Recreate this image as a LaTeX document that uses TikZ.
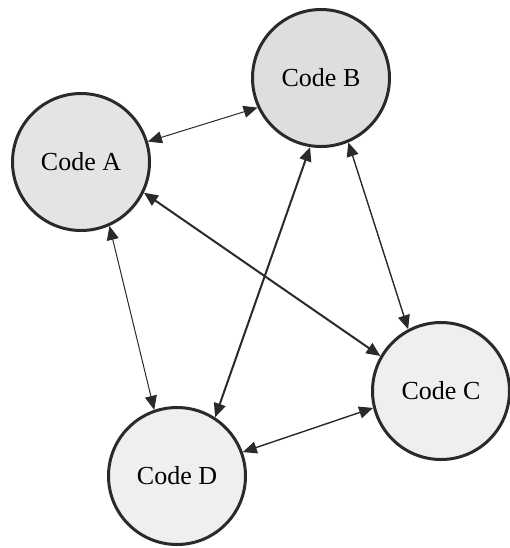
\documentclass[tikz,border=0pt]{standalone}
\usepackage{fontspec}
\setmainfont{Liberation Serif}
\usepackage{tikz}
\usetikzlibrary{shapes,arrows.meta}
\definecolor{fillA}{HTML}{E4E4E4}
\definecolor{fillB}{HTML}{DEDEDE}
\definecolor{fillC}{HTML}{EFEFEF}
\definecolor{ink}{HTML}{2A2A2A}
\tikzstyle{code} = [draw=ink, circle, line width=1.5pt, minimum size=68.5pt, inner sep=0pt, font=\fontsize{13}{16}\selectfont]
\tikzstyle{line} = [draw=ink, line width=0.5pt, {Triangle[length=7pt,width=6pt]}-{Triangle[length=7pt,width=6pt]}]
\tikzstyle{linethick} = [line, line width=1pt]
\begin{document}
\begin{tikzpicture}[x=0.5pt, y=-0.5pt]
            \useasboundingbox (0,0) rectangle (510,548);
                \node [code, fill=fillA] (a) at (81,162) {Code A};
                \node [code, fill=fillB] (b) at (321,78) {Code B};
                \node [code, fill=fillC] (c) at (441,391) {Code C};
                \node [code, fill=fillC] (d) at (177,476) {Code D};
                \path [line] (a.17) -- (b.205);
                \path [line] (a.294) -- (d.109);
                \path [linethick] (a.334) -- (c.150);
                \path [linethick] (b.261) -- (d.57);
                \path [line, line width=0.7pt] (b.293) -- (c.118);
                \path [line, line width=0.7pt] (d.20) -- (c.194);
            \end{tikzpicture}
\end{document}
